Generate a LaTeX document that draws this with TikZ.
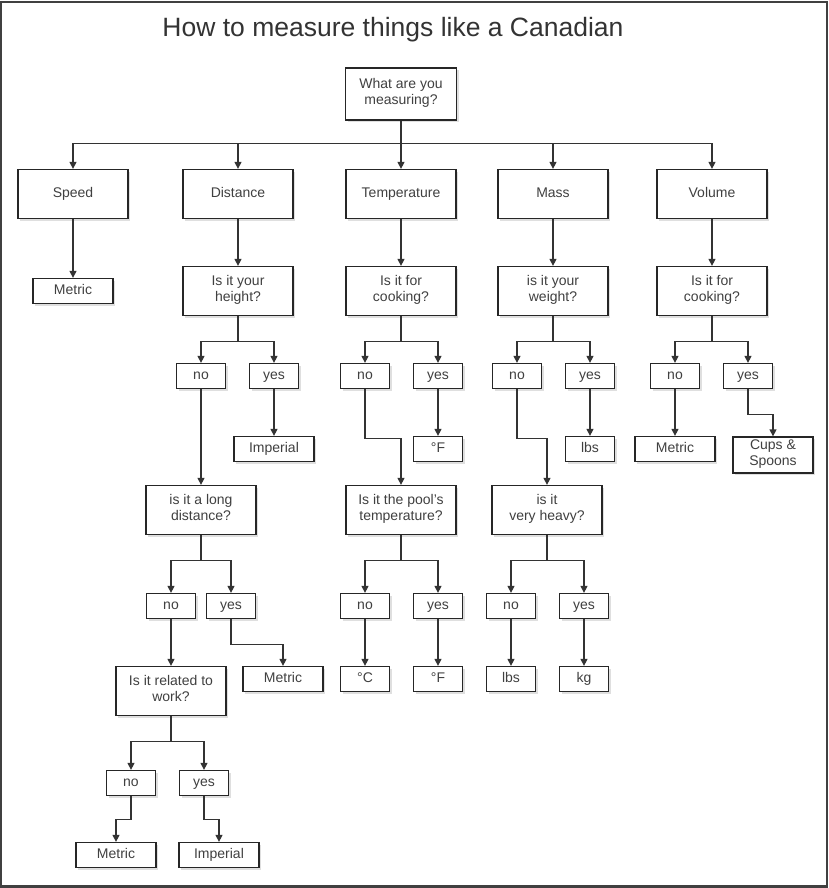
\documentclass[tikz,border=0pt]{standalone}
\usepackage{fontspec}
\setmainfont{Liberation Sans}
\usetikzlibrary{arrows.meta,shadows}

\begin{document}
\begin{tikzpicture}[x=1pt,y=-1pt,
    box/.style={draw=black!85, line width=1.3pt, fill=white, inner sep=0pt,
      text=black!75, align=center, font=\fontsize{14}{16.5}\selectfont,
      execute at begin node=\strut, execute at end node=\strut,
      drop shadow={shadow xshift=2pt, shadow yshift=-2pt, opacity=0.25}},
    big/.style={box, minimum width=110pt, minimum height=49pt},
    yn/.style={box, minimum width=49pt, minimum height=25pt},
    leaf/.style={box, minimum width=80pt, minimum height=25pt},
    arr/.style={draw=black!80, line width=1.3pt, -{Triangle[length=7pt,width=7pt]}}]
  \useasboundingbox (0,0) rectangle (828,888);
  \fill[white] (0,0) rectangle (828,888);
  \draw[black!75, line width=2.5pt] (1.2,2) rectangle (826.8,886.5);

  \node (title) at (393,30) {\fontsize{26.5}{30}\selectfont\color{black!80}How to measure things like a Canadian};

  \node[big, minimum width=111pt, minimum height=52pt] (root) at (401,94) {What are you\\measuring?};
  \node[big] (speed) at (73,194) {Speed};
  \node[big] (dist) at (238,194) {Distance};
  \node[big] (temp) at (401,194) {Temperature};
  \node[big] (mass) at (553,194) {Mass};
  \node[big] (vol) at (712,194) {Volume};

  \node[leaf] (smetric) at (73,291) {Metric};
  \node[big] (dq) at (238,291) {Is it your\\height?};
  \node[big] (tq) at (401,291) {Is it for\\cooking?};
  \node[big] (mq) at (553,291) {is it your\\weight?};
  \node[big] (vq) at (712,291) {Is it for\\cooking?};

  \node[yn] (dno) at (201,376) {no};
  \node[yn] (dyes) at (274,376) {yes};
  \node[yn] (tno) at (365,376) {no};
  \node[yn] (tyes) at (438,376) {yes};
  \node[yn] (mno) at (517,376) {no};
  \node[yn] (myes) at (590,376) {yes};
  \node[yn] (vno) at (675,376) {no};
  \node[yn] (vyes) at (748,376) {yes};

  \node[leaf] (dimp) at (274,449) {Imperial};
  \node[yn] (tf) at (438,449) {°F};
  \node[yn] (mlbs) at (590,449) {lbs};
  \node[leaf] (vmetric) at (675,449) {Metric};
  \node[leaf, minimum height=36pt] (cups) at (773,455) {Cups \&\\Spoons};

  \node[big] (dlong) at (201,510) {is it a long\\distance?};
  \node[big] (pool) at (401,510) {Is it the pool's\\temperature?};
  \node[big] (heavy) at (547,510) {is it\\very heavy?};

  \node[yn] (dno2) at (171,606) {no};
  \node[yn] (dyes2) at (231,606) {yes};
  \node[yn] (pno) at (365,606) {no};
  \node[yn] (pyes) at (438,606) {yes};
  \node[yn] (hno) at (511,606) {no};
  \node[yn] (hyes) at (584,606) {yes};

  \node[big] (work) at (171,691) {Is it related to\\work?};
  \node[leaf] (dmetric) at (283,679) {Metric};
  \node[yn] (pc) at (365,679) {°C};
  \node[yn] (pf) at (438,679) {°F};
  \node[yn] (hlbs) at (511,679) {lbs};
  \node[yn] (hkg) at (584,679) {kg};

  \node[yn] (wno) at (131,783) {no};
  \node[yn] (wyes) at (204,783) {yes};
  \node[leaf] (wmetric) at (116,855) {Metric};
  \node[leaf] (wimp) at (219,855) {Imperial};

  \foreach \c in {speed,dist,temp,mass,vol}
    \draw[arr] (root.south) -- ++(0,23) -| (\c.north);
  \foreach \q/\n/\y in {dq/dno/dyes, tq/tno/tyes, mq/mno/myes, vq/vno/vyes,
      dlong/dno2/dyes2, pool/pno/pyes, heavy/hno/hyes, work/wno/wyes} {
    \draw[arr] (\q.south) -- ++(0,25) -| (\n.north);
    \draw[arr] (\q.south) -- ++(0,25) -| (\y.north);
  }
  \foreach \a/\b in {speed/smetric, dist/dq, temp/tq, mass/mq, vol/vq,
      dyes/dimp, tyes/tf, myes/mlbs, vno/vmetric, dno/dlong,
      dno2/work, pno/pc, pyes/pf, hno/hlbs, hyes/hkg}
    \draw[arr] (\a) -- (\b);
  \draw[arr] (tno.south) -- ++(0,49) -| (pool.north);
  \draw[arr] (mno.south) -- ++(0,49) -| (heavy.north);
  \draw[arr] (vyes.south) -- ++(0,25) -| (cups.north);
  \draw[arr] (dyes2.south) -- ++(0,25) -| (dmetric.north);
  \draw[arr] (wno.south) -- ++(0,23) -| (wmetric.north);
  \draw[arr] (wyes.south) -- ++(0,23) -| (wimp.north);
\end{tikzpicture}
\end{document}
